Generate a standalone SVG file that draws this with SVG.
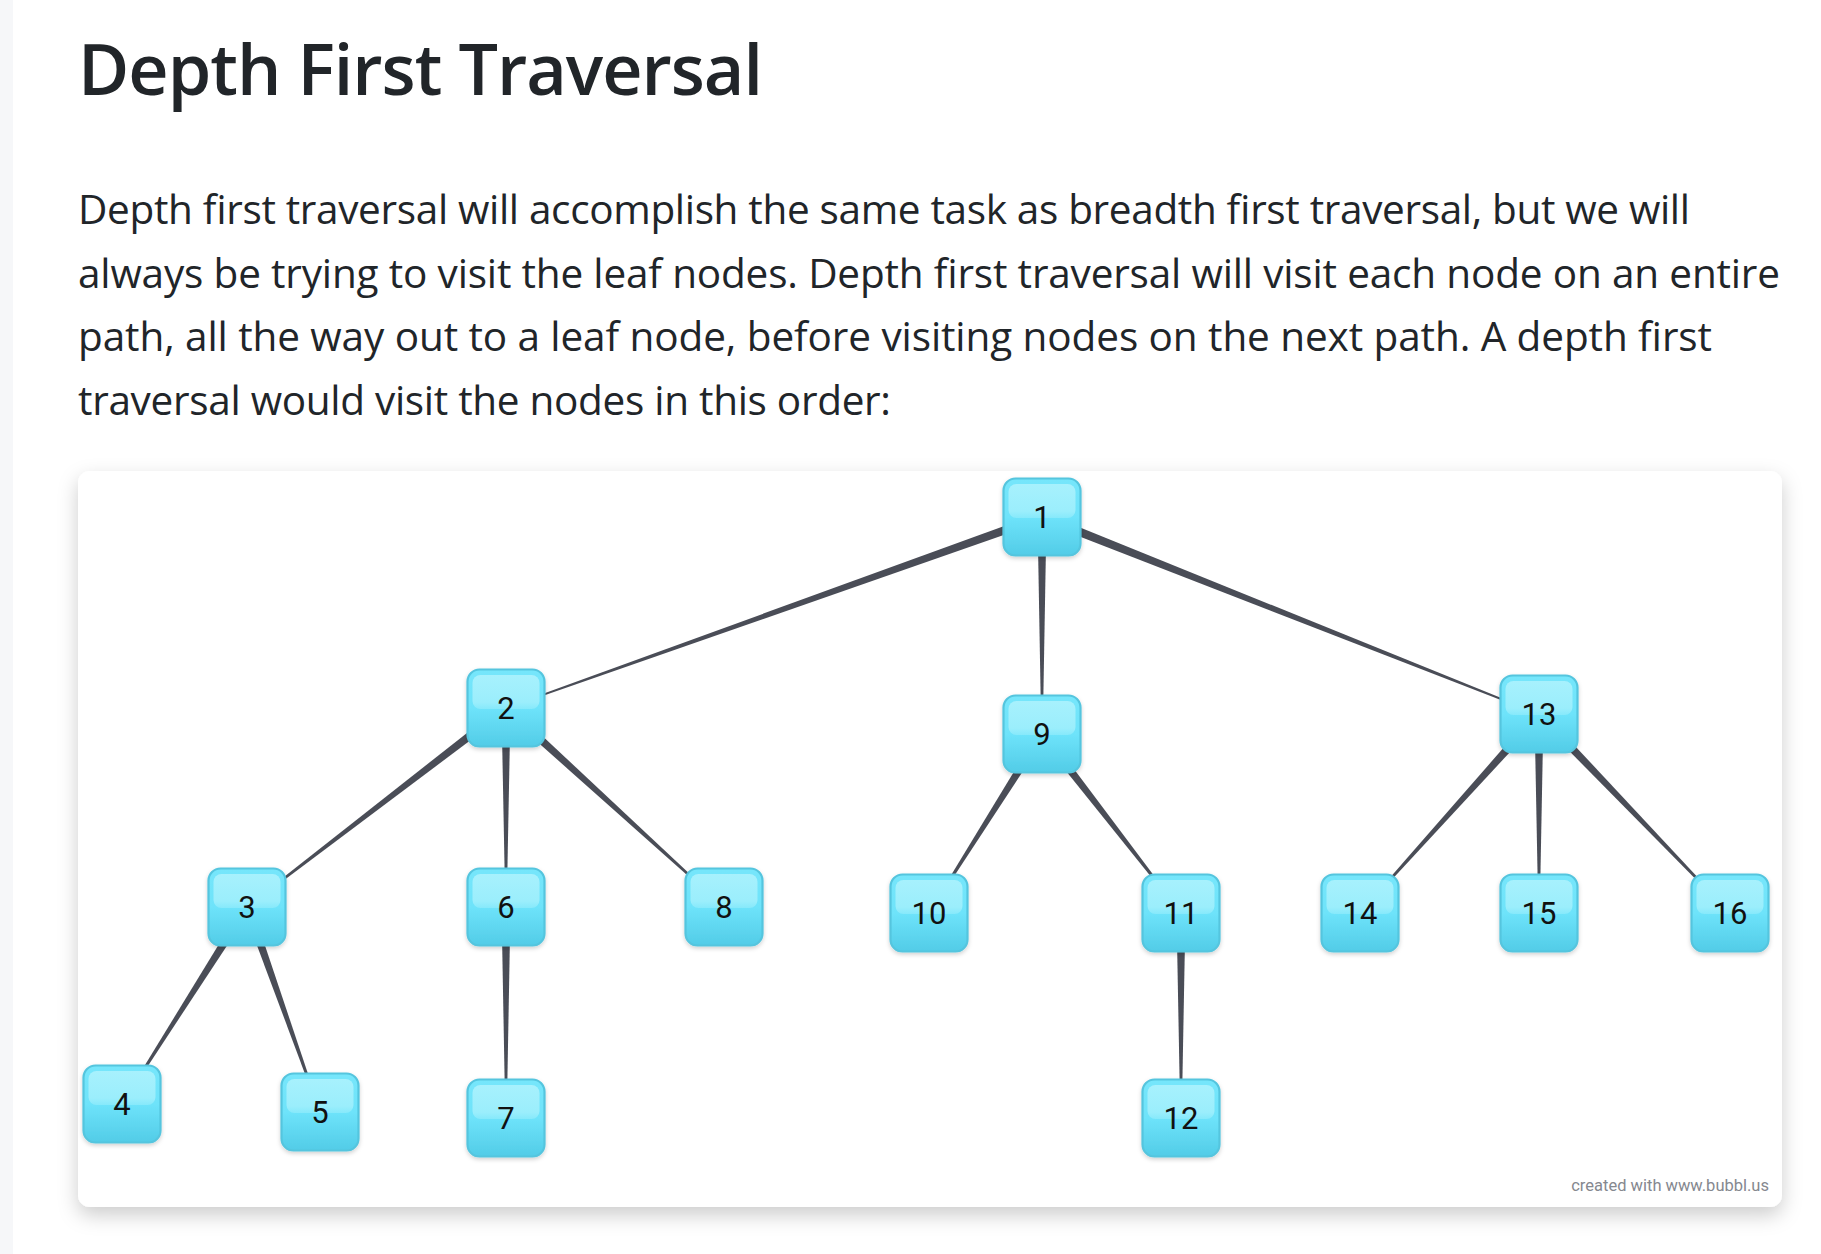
<svg xmlns="http://www.w3.org/2000/svg" xmlns:xlink="http://www.w3.org/1999/xlink" width="1821" height="1254" viewBox="0 0 1821 1254">
<style>
.title{font-family:"Open Sans","Noto Sans","Liberation Sans",sans-serif;font-weight:600;font-size:70px;fill:#212529}
.para{font-family:"Open Sans","Noto Sans","Liberation Sans",sans-serif;font-size:40.5px;fill:#212529}
.lbl{font-family:Roboto,"Liberation Sans",sans-serif;font-size:31px;fill:#111;text-anchor:middle}
.foot{font-family:Roboto,"Liberation Sans",sans-serif;font-size:16.5px;fill:#85888f;text-anchor:end}
.edge{fill:#4a4d57}
</style>
<defs>
<linearGradient id="body" x1="0" y1="0" x2="0" y2="1">
<stop offset="0" stop-color="#76e6fb"/>
<stop offset="0.5" stop-color="#6ee3fa"/>
<stop offset="1" stop-color="#52cce7"/>
</linearGradient>
<linearGradient id="hl" x1="0" y1="0" x2="0" y2="1">
<stop offset="0" stop-color="#a7f1fd"/>
<stop offset="0.8" stop-color="#9beefc"/>
<stop offset="1" stop-color="#86e9fb"/>
</linearGradient>
<filter id="cardsh" x="-5%" y="-8%" width="110%" height="120%">
<feDropShadow dx="0" dy="8" stdDeviation="10" flood-color="#000" flood-opacity="0.2"/>
</filter>
<filter id="nodesh" x="-20%" y="-20%" width="140%" height="150%">
<feDropShadow dx="0" dy="2" stdDeviation="2" flood-color="#000" flood-opacity="0.18"/>
</filter>
<g id="box">
<rect x="-38.5" y="-38.5" width="77" height="77" rx="12" fill="url(#body)" stroke="#54c5de" stroke-width="2.2" filter="url(#nodesh)"/>
<rect x="-33.5" y="-33" width="67" height="34" rx="8" fill="url(#hl)"/>
</g>
</defs>
<rect x="0" y="0" width="1821" height="1254" fill="#fff"/>
<rect x="0" y="0" width="13" height="1254" fill="#f6f7f9"/>
<text class="title" x="78" y="95" textLength="685">Depth First Traversal</text>
<g class="para">
<text x="78" y="224" textLength="1612">Depth first traversal will accomplish the same task as breadth first traversal, but we will</text>
<text x="78" y="288" textLength="1702">always be trying to visit the leaf nodes. Depth first traversal will visit each node on an entire</text>
<text x="78" y="351" textLength="1634">path, all the way out to a leaf node, before visiting nodes on the next path. A depth first</text>
<text x="78" y="415" textLength="813">traversal would visit the nodes in this order:</text>
</g>
<rect id="card" x="78" y="471" width="1704" height="736" rx="12" fill="#fff" filter="url(#cardsh)"/>
<g id="connectors">
<polygon class="edge" points="1040.5,512.8 505.8,707.3 506.2,708.7 1043.5,521.2"/>
<polygon class="edge" points="1037.5,517 1041.3,734 1042.7,734 1046.5,517"/>
<polygon class="edge" points="1040.3,521.2 1538.7,714.7 1539.3,713.3 1043.7,512.8"/>
<polygon class="edge" points="503.3,704.4 246.6,906.4 247.4,907.6 508.7,711.6"/>
<polygon class="edge" points="501.5,708 505.3,907 506.7,907 510.5,708"/>
<polygon class="edge" points="503.0,711.3 723.5,907.5 724.5,906.5 509.0,704.7"/>
<polygon class="edge" points="243.2,904.6 121.4,1103.6 122.6,1104.4 250.8,909.4"/>
<polygon class="edge" points="243.2,908.5 319.3,1112.2 320.7,1111.8 251.6,905.5"/>
<polygon class="edge" points="501.5,907 505.3,1118 506.7,1118 510.5,907"/>
<polygon class="edge" points="1038.2,731.6 928.4,912.6 929.6,913.4 1045.8,736.4"/>
<polygon class="edge" points="1038.5,736.8 1180.5,913.4 1181.6,912.6 1045.6,731.2"/>
<polygon class="edge" points="1176.5,913 1180.3,1118 1181.7,1118 1185.5,913"/>
<polygon class="edge" points="1535.7,711.0 1359.5,912.5 1360.5,913.5 1542.4,717.0"/>
<polygon class="edge" points="1534.5,714 1538.3,913 1539.7,913 1543.5,714"/>
<polygon class="edge" points="1535.8,717.1 1729.5,913.5 1730.5,912.5 1542.3,710.9"/>
</g>
<g id="n1" transform="translate(1042,517)"><use xlink:href="#box"/><text class="lbl" y="11">1</text></g>
<g id="n2" transform="translate(506,708)"><use xlink:href="#box"/><text class="lbl" y="11">2</text></g>
<g id="n9" transform="translate(1042,734)"><use xlink:href="#box"/><text class="lbl" y="11">9</text></g>
<g id="n13" transform="translate(1539,714)"><use xlink:href="#box"/><text class="lbl" y="11">13</text></g>
<g id="n3" transform="translate(247,907)"><use xlink:href="#box"/><text class="lbl" y="11">3</text></g>
<g id="n6" transform="translate(506,907)"><use xlink:href="#box"/><text class="lbl" y="11">6</text></g>
<g id="n8" transform="translate(724,907)"><use xlink:href="#box"/><text class="lbl" y="11">8</text></g>
<g id="n10" transform="translate(929,913)"><use xlink:href="#box"/><text class="lbl" y="11">10</text></g>
<g id="n11" transform="translate(1181,913)"><use xlink:href="#box"/><text class="lbl" y="11">11</text></g>
<g id="n14" transform="translate(1360,913)"><use xlink:href="#box"/><text class="lbl" y="11">14</text></g>
<g id="n15" transform="translate(1539,913)"><use xlink:href="#box"/><text class="lbl" y="11">15</text></g>
<g id="n16" transform="translate(1730,913)"><use xlink:href="#box"/><text class="lbl" y="11">16</text></g>
<g id="n4" transform="translate(122,1104)"><use xlink:href="#box"/><text class="lbl" y="11">4</text></g>
<g id="n5" transform="translate(320,1112)"><use xlink:href="#box"/><text class="lbl" y="11">5</text></g>
<g id="n7" transform="translate(506,1118)"><use xlink:href="#box"/><text class="lbl" y="11">7</text></g>
<g id="n12" transform="translate(1181,1118)"><use xlink:href="#box"/><text class="lbl" y="11">12</text></g>
<text class="foot" x="1769" y="1191">created with www.bubbl.us</text>
</svg>
